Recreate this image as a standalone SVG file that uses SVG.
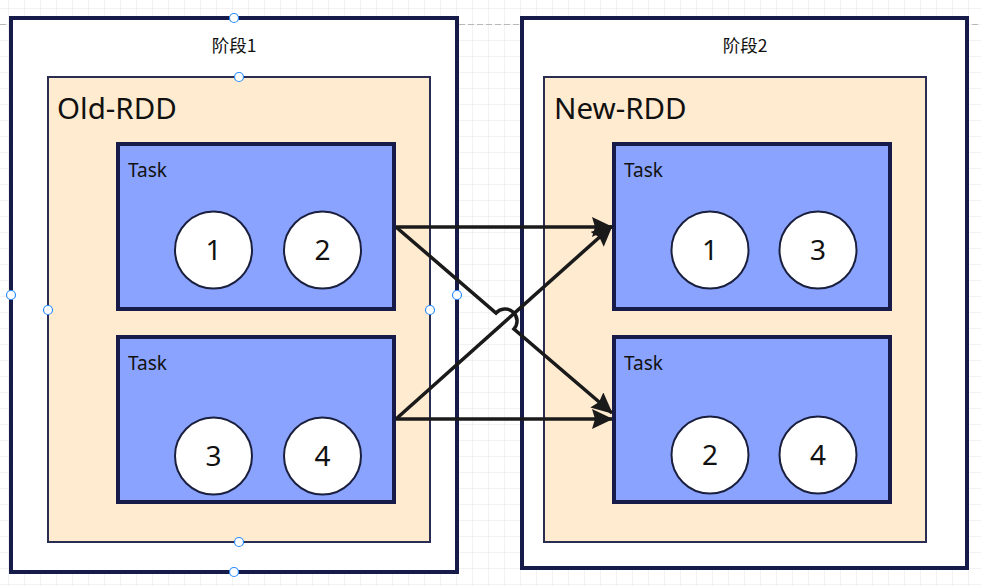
<svg xmlns="http://www.w3.org/2000/svg" width="981" height="586" viewBox="0 0 981 586">
  <defs>
    <pattern id="grid" width="16" height="16" patternUnits="userSpaceOnUse" x="8" y="8">
      <path d="M16,0 L0,0 L0,16" fill="none" stroke="#e5e5e5" stroke-width="1"/>
    </pattern>
    <marker id="arr" markerUnits="userSpaceOnUse" markerWidth="22" markerHeight="20" refX="20" refY="10" orient="auto">
      <path d="M0,0 L21,10 L0,20 L3,10 z" fill="#1a1a1a"/>
    </marker>
    <style>
      .stage { fill: #ffffff; stroke: #161b4a; stroke-width: 4; }
      .rdd { fill: #ffebd0; stroke: #2a2d52; stroke-width: 2; }
      .task { fill: #8aa3ff; stroke: #161b4a; stroke-width: 4; }
      .part { fill: #ffffff; stroke: #1a1f3d; stroke-width: 2; }
      .conn { fill: none; stroke: #1a1a1a; stroke-width: 3.5; marker-end: url(#arr); }
      .handle { fill: #ffffff; stroke: #2b8cff; stroke-width: 1.2; }
      .cn { font-family: "Noto Sans CJK SC", "Noto Sans", sans-serif; font-size: 17.5px; fill: #111; text-anchor: middle; }
      .big { font-family: "Noto Sans", "Open Sans", sans-serif; font-size: 29.5px; fill: #111; }
      .tl { font-family: "Noto Sans", "Open Sans", sans-serif; font-size: 19px; fill: #111; }
      .num { font-family: "Noto Sans", "Open Sans", sans-serif; font-size: 28px; fill: #111; text-anchor: middle; }
    </style>
  </defs>
  <rect x="0" y="0" width="981" height="586" fill="#ffffff"/>
  <rect x="0" y="0" width="981" height="586" fill="url(#grid)"/>
  <line x1="0" y1="24.5" x2="981" y2="24.5" stroke="#b8b8b8" stroke-width="1" stroke-dasharray="6,3"/>

  <g id="stage1">
    <rect class="stage" x="11" y="18" width="446" height="554"/>
    <text class="cn" x="234" y="52">阶段1</text>
  </g>
  <g id="old-rdd">
    <rect class="rdd" x="48" y="77" width="382" height="465"/>
    <text class="big" x="57" y="119">Old-RDD</text>
  </g>
  <g id="old-task1">
    <rect class="task" x="118" y="144" width="276" height="165"/>
    <text class="tl" x="128" y="177">Task</text>
    <circle class="part" cx="213.5" cy="250" r="38.5"/>
    <text class="num" x="213.5" y="260">1</text>
    <circle class="part" cx="322.5" cy="250" r="38.5"/>
    <text class="num" x="322.5" y="260">2</text>
  </g>
  <g id="old-task2">
    <rect class="task" x="118" y="337" width="276" height="165"/>
    <text class="tl" x="128" y="370">Task</text>
    <circle class="part" cx="213.5" cy="456" r="38.5"/>
    <text class="num" x="213.5" y="466">3</text>
    <circle class="part" cx="322.5" cy="456" r="38.5"/>
    <text class="num" x="322.5" y="466">4</text>
  </g>

  <g id="stage2">
    <rect class="stage" x="522" y="18" width="445" height="550"/>
    <text class="cn" x="745" y="52">阶段2</text>
  </g>
  <g id="new-rdd">
    <rect class="rdd" x="544" y="77" width="382" height="465"/>
    <text class="big" x="554" y="119">New-RDD</text>
  </g>
  <g id="new-task1">
    <rect class="task" x="614" y="144" width="276" height="165"/>
    <text class="tl" x="624" y="177">Task</text>
    <circle class="part" cx="710" cy="250" r="38.5"/>
    <text class="num" x="710" y="260">1</text>
    <circle class="part" cx="818" cy="250" r="38.5"/>
    <text class="num" x="818" y="260">3</text>
  </g>
  <g id="new-task2">
    <rect class="task" x="614" y="337" width="276" height="165"/>
    <text class="tl" x="624" y="370">Task</text>
    <circle class="part" cx="710" cy="455" r="38.5"/>
    <text class="num" x="710" y="465">2</text>
    <circle class="part" cx="818" cy="455" r="38.5"/>
    <text class="num" x="818" y="465">4</text>
  </g>

  <g id="connectors">
    <path class="conn" d="M396,227 L612,227"/>
    <path class="conn" d="M396,419 L612,419"/>
    <path class="conn" d="M396,419 L612,226"/>
    <path class="conn" d="M396,227 L496,313 A12,12 0 0 1 514,329 L612,413"/>
  </g>

  <g id="handles">
    <circle class="handle" cx="234" cy="18" r="4.5"/>
    <circle class="handle" cx="239" cy="77" r="4.5"/>
    <circle class="handle" cx="11" cy="295" r="4.5"/>
    <circle class="handle" cx="48" cy="310" r="4.5"/>
    <circle class="handle" cx="430" cy="310" r="4.5"/>
    <circle class="handle" cx="457" cy="295" r="4.5"/>
    <circle class="handle" cx="239" cy="542" r="4.5"/>
    <circle class="handle" cx="234" cy="572" r="4.5"/>
  </g>
</svg>
